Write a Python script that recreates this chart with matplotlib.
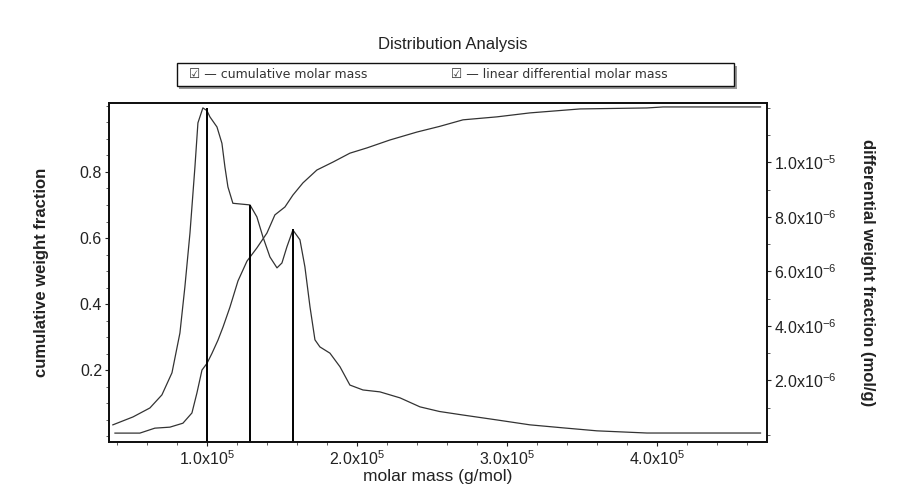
import numpy as np
import matplotlib.pyplot as plt
from matplotlib.ticker import FixedLocator, MultipleLocator, FuncFormatter
from matplotlib.patches import Rectangle

plt.rcParams['font.family'] = ['Liberation Sans', 'DejaVu Sans']
plt.rcParams['mathtext.fontset'] = 'custom'
plt.rcParams['mathtext.rm'] = 'Liberation Sans'
plt.rcParams['mathtext.it'] = 'Liberation Sans:italic'

# differential weight fraction (units of 1e-6 mol/g) vs molar mass
mass_diff = [0.373e5, 0.507e5, 0.62e5, 0.70e5, 0.767e5, 0.82e5, 0.853e5, 0.887e5,
             0.92e5, 0.94e5, 0.973e5, 1.0e5, 1.02e5, 1.067e5, 1.10e5, 1.12e5, 1.14e5,
             1.173e5, 1.287e5, 1.333e5, 1.373e5, 1.42e5, 1.467e5, 1.50e5, 1.533e5,
             1.573e5, 1.62e5, 1.653e5, 1.687e5, 1.72e5, 1.753e5, 1.82e5, 1.887e5,
             1.953e5, 2.04e5, 2.153e5, 2.287e5, 2.42e5, 2.55e5, 2.707e5, 2.933e5,
             3.153e5, 3.373e5, 3.60e5, 3.933e5, 4.27e5, 4.69e5]
wdiff = [0.37, 0.66, 0.99, 1.47, 2.28, 3.74, 5.43, 7.41,
         9.83, 11.45, 12.0, 11.9, 11.67, 11.3, 10.7, 9.83, 9.1,
         8.5, 8.44, 8.0, 7.27, 6.53, 6.13, 6.31, 6.9,
         7.52, 7.16, 6.17, 4.70, 3.49, 3.23, 3.0, 2.50,
         1.83, 1.65, 1.58, 1.36, 1.03, 0.86, 0.73, 0.55,
         0.37, 0.26, 0.15, 0.07, 0.07, 0.07]

# cumulative weight fraction vs molar mass
mass_cum = [0.387e5, 0.553e5, 0.653e5, 0.753e5, 0.84e5, 0.90e5, 0.933e5, 0.967e5,
            1.0e5, 1.033e5, 1.073e5, 1.107e5, 1.153e5, 1.207e5, 1.267e5, 1.333e5,
            1.40e5, 1.453e5, 1.52e5, 1.573e5, 1.64e5, 1.733e5, 1.84e5, 1.953e5,
            2.067e5, 2.22e5, 2.40e5, 2.55e5, 2.707e5, 2.933e5, 3.153e5, 3.487e5,
            3.933e5, 4.04e5, 4.69e5]
wcum = [0.009, 0.009, 0.024, 0.027, 0.039, 0.07, 0.13, 0.20,
        0.22, 0.25, 0.29, 0.33, 0.39, 0.47, 0.53, 0.57,
        0.615, 0.67, 0.694, 0.73, 0.767, 0.806, 0.83, 0.857,
        0.873, 0.897, 0.921, 0.938, 0.958, 0.967, 0.979, 0.991,
        0.994, 0.997, 0.997]

# marker lines (Mn, Mw, Mz style)
mark_mass = [1.0e5, 1.287e5, 1.573e5]
mark_height = [12.0, 8.44, 7.56]

fig = plt.figure(figsize=(9.02, 4.99), dpi=100)
ax = fig.add_axes([0.1208, 0.1142, 0.7295, 0.6794])
ax2 = ax.twinx()

ax.plot(mass_cum, wcum, color='#333333', lw=0.9)
ax2.plot(mass_diff, np.array(wdiff) * 1e-6, color='#333333', lw=0.9)
ax2.vlines(mark_mass, -0.3e-6, np.array(mark_height) * 1e-6, color='black', lw=1.4)

ax.set_xlim(0.347e5, 4.733e5)
ax.set_ylim(-0.018, 1.009)
ax2.set_ylim(-0.26e-6, 12.18e-6)

ax.xaxis.set_major_locator(FixedLocator([1e5, 2e5, 3e5, 4e5]))
ax.xaxis.set_minor_locator(MultipleLocator(2e4))
ax.xaxis.set_major_formatter(FuncFormatter(lambda v, p: r'$%.1f\mathrm{x}10^{5}$' % (v / 1e5)))
ax.yaxis.set_major_locator(FixedLocator([0.2, 0.4, 0.6, 0.8]))
ax.yaxis.set_minor_locator(MultipleLocator(0.05))
ax2.yaxis.set_major_locator(FixedLocator([2e-6, 4e-6, 6e-6, 8e-6, 1e-5]))
ax2.yaxis.set_minor_locator(MultipleLocator(1e-6))
r_labels = {2: r'$2.0\mathrm{x}10^{-6}$', 4: r'$4.0\mathrm{x}10^{-6}$', 6: r'$6.0\mathrm{x}10^{-6}$',
            8: r'$8.0\mathrm{x}10^{-6}$', 10: r'$1.0\mathrm{x}10^{-5}$'}
ax2.yaxis.set_major_formatter(FuncFormatter(lambda v, p: r_labels.get(int(round(v * 1e6)), '')))

for a in (ax, ax2):
    a.tick_params(which='major', length=3, width=0.8, labelsize=11.5, colors='#222222', pad=2)
    a.tick_params(which='minor', length=2, width=0.6, colors='#444444')
    for s in a.spines.values():
        s.set_linewidth(1.3)
        s.set_color('#111111')

ax.set_xlabel('molar mass (g/mol)', fontsize=12.5, color='#222222', labelpad=1)
ax.set_ylabel('cumulative weight fraction', fontsize=12, fontweight='bold', color='#222222', labelpad=22)
ax2.set_ylabel('differential weight fraction (mol/g)', fontsize=12, fontweight='bold',
               color='#222222', rotation=270, labelpad=28)

fig.text(0.502, 0.91, 'Distribution Analysis', ha='center', va='center', fontsize=12, color='#222222')

# legend box with shadow
bx, by, bw, bh = 0.196, 0.828, 0.618, 0.046
fig.patches.append(Rectangle((bx + 0.003, by - 0.006), bw, bh, transform=fig.transFigure,
                             facecolor='#999999', edgecolor='none', zorder=1))
fig.patches.append(Rectangle((bx, by), bw, bh, transform=fig.transFigure,
                             facecolor='white', edgecolor='#111111', lw=1.0, zorder=2))
fig.text(0.21, by + bh / 2, '\u2611 \u2014 cumulative molar mass', ha='left', va='center',
         fontsize=9, color='#333333', family=['DejaVu Sans'], zorder=3)
fig.text(0.50, by + bh / 2, '\u2611 \u2014 linear differential molar mass', ha='left', va='center',
         fontsize=9, color='#333333', family=['DejaVu Sans'], zorder=3)

fig.savefig('out.png', dpi=100, facecolor='white')
